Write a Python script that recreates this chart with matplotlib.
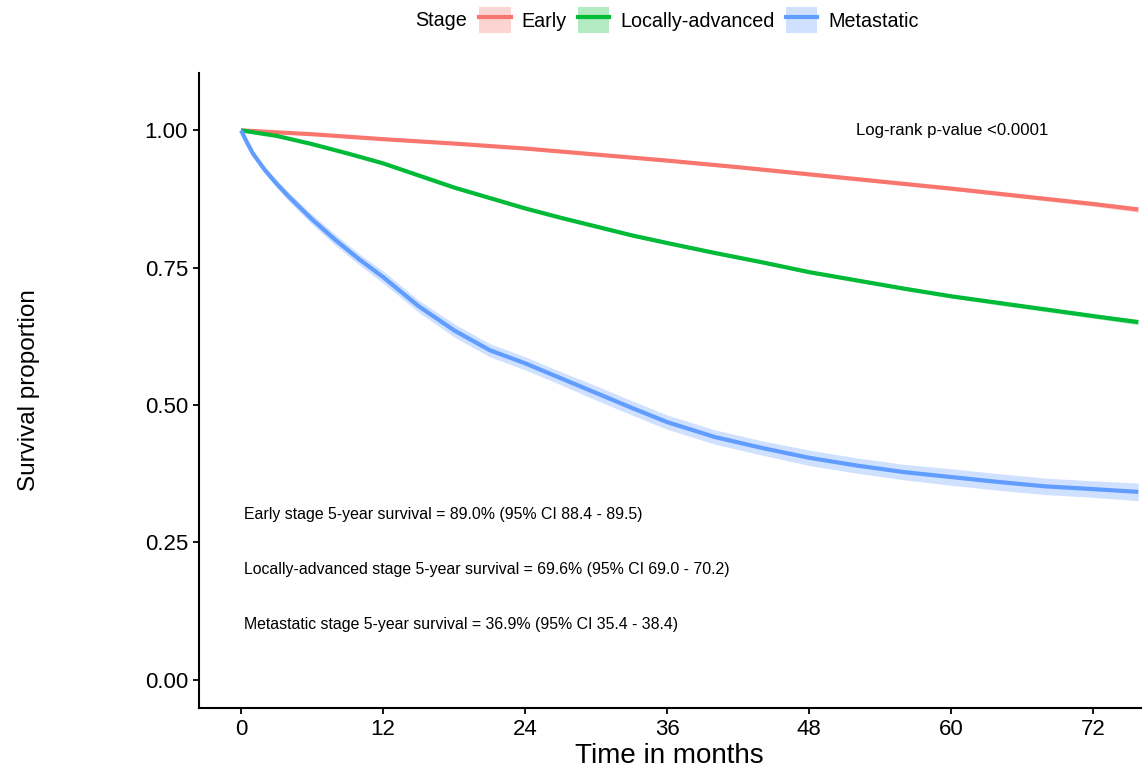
import numpy as np
import matplotlib
matplotlib.use('Agg')
import matplotlib.pyplot as plt
from matplotlib.patches import Patch
from matplotlib.lines import Line2D
from matplotlib.legend_handler import HandlerTuple

plt.rcParams['font.family'] = ['Liberation Sans', 'DejaVu Sans']

# survival curves
months_early = [0, 6, 12, 18, 24, 30, 36, 42, 48, 54, 60, 66, 72, 75.8]
surv_early = [1.0, 0.993, 0.984, 0.976, 0.967, 0.956, 0.945, 0.933, 0.920, 0.907, 0.894, 0.880, 0.866, 0.856]
ci_early = [0.0, 0.001, 0.001, 0.0015, 0.002, 0.002, 0.002, 0.0025, 0.003, 0.003, 0.003, 0.0035, 0.004, 0.005]

months_local = [0, 3, 6, 9, 12, 15, 18, 21, 24, 27, 30, 33, 36, 40, 44, 48, 52, 56, 60, 64, 68, 72, 75.8]
surv_local = [1.0, 0.990, 0.975, 0.958, 0.940, 0.918, 0.896, 0.877, 0.858, 0.841, 0.825, 0.809, 0.795,
              0.777, 0.760, 0.742, 0.727, 0.712, 0.698, 0.686, 0.674, 0.662, 0.651]
ci_local = [0.0, 0.001, 0.002, 0.002, 0.002, 0.003, 0.003, 0.003, 0.003, 0.003, 0.003, 0.003, 0.003,
            0.003, 0.003, 0.003, 0.003, 0.003, 0.003, 0.004, 0.004, 0.004, 0.005]

months_meta = [0, 0.5, 1, 2, 3, 4, 6, 8, 10, 12, 15, 18, 21, 24, 27, 30, 33, 36, 40, 44, 48, 52, 56, 60,
               64, 68, 72, 75.8]
surv_meta = [1.0, 0.978, 0.958, 0.928, 0.903, 0.880, 0.838, 0.800, 0.765, 0.733, 0.680, 0.636, 0.600,
             0.576, 0.549, 0.522, 0.495, 0.469, 0.442, 0.422, 0.404, 0.390, 0.378, 0.369, 0.360, 0.352,
             0.347, 0.342]
ci_meta = [0.0, 0.004, 0.005, 0.006, 0.007, 0.008, 0.009, 0.010, 0.010, 0.011, 0.011, 0.012, 0.012,
           0.012, 0.012, 0.013, 0.013, 0.013, 0.013, 0.013, 0.014, 0.014, 0.014, 0.015, 0.015, 0.015,
           0.015, 0.016]

stages = ['Early', 'Locally-advanced', 'Metastatic']
colors = ['#F8766D', '#00BA38', '#619CFF']

notes = ['Early stage 5-year survival = 89.0% (95% CI 88.4 - 89.5)',
         'Locally-advanced stage 5-year survival = 69.6% (95% CI 69.0 - 70.2)',
         'Metastatic stage 5-year survival = 36.9% (95% CI 35.4 - 38.4)']
note_y = [0.30, 0.20, 0.10]
pvalue_text = 'Log-rank p-value <0.0001'

fig = plt.figure(figsize=(11.44, 7.71), dpi=100)
ax = fig.add_axes([0.174, 0.082, 0.823, 0.823])

series = [(months_early, surv_early, ci_early),
          (months_local, surv_local, ci_local),
          (months_meta, surv_meta, ci_meta)]
for (t, s, c), col in zip(series, colors):
    t = np.array(t)
    s = np.array(s)
    c = np.array(c)
    ax.fill_between(t, s - c, s + c, color=col, alpha=0.3, lw=0)
    ax.plot(t, s, color=col, lw=3, solid_capstyle='butt')

ax.text(51.95, 1.0, pvalue_text, fontsize=12.1, va='center', ha='left')
for txt, y in zip(notes, note_y):
    ax.text(0.25, y, txt, fontsize=11.4, va='center', ha='left')

ax.set_xlim(-3.55, 76)
ax.set_ylim(-0.051, 1.104)
ax.set_xticks([0, 12, 24, 36, 48, 60, 72])
ax.set_yticks([0, 0.25, 0.5, 0.75, 1.0])
ax.set_yticklabels(['0.00', '0.25', '0.50', '0.75', '1.00'])
for side in ['top', 'right']:
    ax.spines[side].set_visible(False)
for side in ['left', 'bottom']:
    ax.spines[side].set_linewidth(1.5)
ax.tick_params(axis='both', length=4.5, width=1.3, labelsize=16, colors='black', pad=3.5)
ax.set_xlabel('Time in months', fontsize=20, labelpad=2)
ax.set_ylabel('Survival proportion', fontsize=17.5, labelpad=75)

handles = [(Patch(facecolor=col, alpha=0.3, edgecolor='none'), Line2D([], [], color=col, lw=3))
           for col in colors]
fig.legend(handles, stages, ncol=3, loc='center', bbox_to_anchor=(0.611, 0.974), frameon=False,
           fontsize=14.2, handlelength=1.6, handleheight=1.6, handletextpad=0.56, columnspacing=0.56,
           handler_map={tuple: HandlerTuple(ndivide=1, pad=0)})
fig.text(0.363, 0.974, 'Stage', fontsize=14.2, va='center', ha='left')

fig.savefig('out.png', dpi=100)
